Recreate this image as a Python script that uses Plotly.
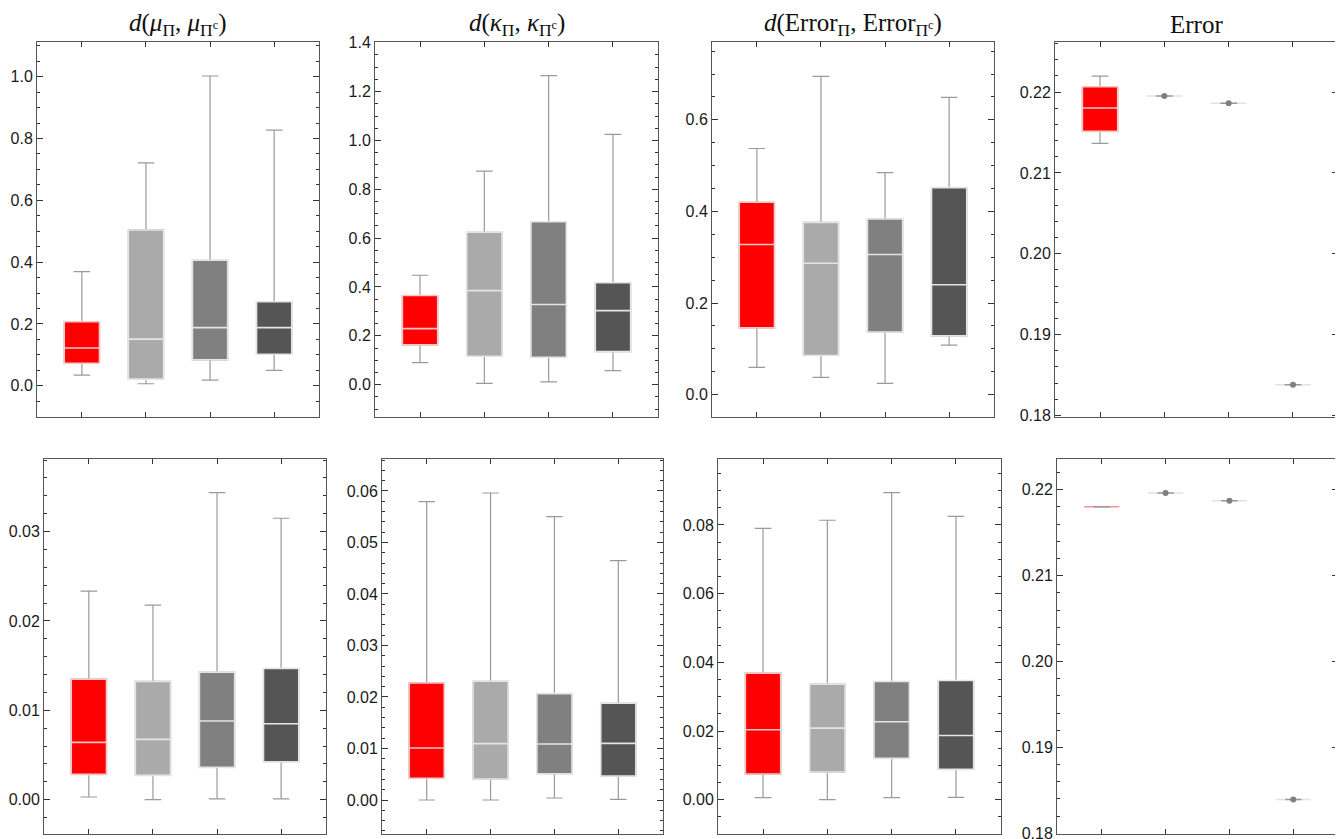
import plotly.graph_objects as go

# page window size and the browser's default body margin
WIN_W, WIN_H = 1343, 839
OFF = 8
W, H = WIN_W - OFF, WIN_H - OFF

GROUPS = ["A", "B", "C", "D"]
FILL = ["#FF0000", "#AAAAAA", "#808080", "#555555"]
EDGE = ["#F2C8C8", "#E4E4E4", "#E4E4E4", "#E4E4E4"]
DEGEN_EDGE = ["#FF9090", "#E2E2E2", "#E2E2E2", "#E2E2E2"]
WHISKER = "#9A9A9A"

# ---- Row 1 ----
P1_LOW = [0.0345, 0.0065, 0.018, 0.050]
P1_Q1 = [0.073, 0.0216, 0.084, 0.102]
P1_MED = [0.122, 0.151, 0.188, 0.188]
P1_Q3 = [0.207, 0.504, 0.406, 0.272]
P1_HIGH = [0.369, 0.721, 1.002, 0.827]

P2_LOW = [0.090, 0.0055, 0.011, 0.057]
P2_Q1 = [0.163, 0.116, 0.112, 0.135]
P2_MED = [0.2295, 0.385, 0.328, 0.303]
P2_Q3 = [0.365, 0.624, 0.667, 0.417]
P2_HIGH = [0.448, 0.874, 1.265, 1.025]

P3_LOW = [0.0596, 0.0378, 0.0247, 0.108]
P3_Q1 = [0.146, 0.0857, 0.137, 0.1286]
P3_MED = [0.328, 0.287, 0.306, 0.240]
P3_Q3 = [0.420, 0.376, 0.3835, 0.452]
P3_HIGH = [0.5375, 0.695, 0.485, 0.649]

P4_LOW = [0.21364, 0.21950, 0.21860, 0.18380]
P4_Q1 = [0.21513, 0.21950, 0.21860, 0.18380]
P4_MED = [0.21802, 0.21950, 0.21860, 0.18380]
P4_Q3 = [0.22066, 0.21950, 0.21860, 0.18380]
P4_HIGH = [0.22198, 0.21950, 0.21860, 0.18380]
P4_DOTS = [None, 0.21950, 0.21860, 0.18380]

# ---- Row 2 ----
P5_LOW = [0.0003, 0.0, 0.0001, 0.0001]
P5_Q1 = [0.00283, 0.00272, 0.00361, 0.00425]
P5_MED = [0.00641, 0.00675, 0.0088, 0.0085]
P5_Q3 = [0.01349, 0.01323, 0.01427, 0.01468]
P5_HIGH = [0.02333, 0.02176, 0.03436, 0.03149]

P6_LOW = [0.0, 0.0, 0.00039, 0.00013]
P6_Q1 = [0.00421, 0.00408, 0.00511, 0.00466]
P6_MED = [0.0101, 0.01094, 0.01087, 0.0110]
P6_Q3 = [0.02272, 0.02304, 0.02065, 0.01877]
P6_HIGH = [0.05793, 0.0596, 0.05502, 0.04647]

P7_LOW = [0.00058, 0.0, 0.00058, 0.00068]
P7_Q1 = [0.00747, 0.00805, 0.01202, 0.00882]
P7_MED = [0.02036, 0.02085, 0.02269, 0.01871]
P7_Q3 = [0.03685, 0.03365, 0.03442, 0.03471]
P7_HIGH = [0.0790, 0.08136, 0.0894, 0.08252]

P8_LOW = [0.21801, 0.21961, 0.21871, 0.18393]
P8_Q1 = [0.21801, 0.21961, 0.21871, 0.18393]
P8_MED = [0.21801, 0.21961, 0.21871, 0.18393]
P8_Q3 = [0.21801, 0.21961, 0.21871, 0.18393]
P8_HIGH = [0.21801, 0.21961, 0.21871, 0.18393]
P8_DOTS = [None, 0.21961, 0.21871, 0.18393]

TITLES = [
    "<i>d</i>(<i>μ</i><sub>Π</sub>, <i>μ</i><sub>Π<sup>c</sup></sub>)",
    "<i>d</i>(<i>κ</i><sub>Π</sub>, <i>κ</i><sub>Π<sup>c</sup></sub>)",
    "<i>d</i>(Error<sub>Π</sub>, Error<sub>Π<sup>c</sup></sub>)",
    "Error",
]

panels = [
    dict(d=(P1_LOW, P1_Q1, P1_MED, P1_Q3, P1_HIGH), dots=None, yr=[-0.101, 1.112], dt=0.2, mdt=0.05, fmt=".1f", xd=(37, 319), yd=(42, 417)),
    dict(d=(P2_LOW, P2_Q1, P2_MED, P2_Q3, P2_HIGH), dots=None, yr=[-0.1325, 1.403], dt=0.2, mdt=0.05, fmt=".1f", xd=(375, 658), yd=(42, 417)),
    dict(d=(P3_LOW, P3_Q1, P3_MED, P3_Q3, P3_HIGH), dots=None, yr=[-0.0487, 0.770], dt=0.2, mdt=0.05, fmt=".1f", xd=(712, 994), yd=(42, 417)),
    dict(d=(P4_LOW, P4_Q1, P4_MED, P4_Q3, P4_HIGH), dots=P4_DOTS, yr=[0.17981, 0.22619], dt=0.01, mdt=0.002, fmt=".2f", xd=(1055, 1338), yd=(42, 417)),
    dict(d=(P5_LOW, P5_Q1, P5_MED, P5_Q3, P5_HIGH), dots=None, yr=[-0.00384, 0.03812], dt=0.01, mdt=0.002, fmt=".2f", xd=(44, 326), yd=(459, 834)),
    dict(d=(P6_LOW, P6_Q1, P6_MED, P6_Q3, P6_HIGH), dots=None, yr=[-0.0066, 0.0662], dt=0.01, mdt=0.002, fmt=".2f", xd=(382, 663), yd=(459, 834)),
    dict(d=(P7_LOW, P7_Q1, P7_MED, P7_Q3, P7_HIGH), dots=None, yr=[-0.00999, 0.0992], dt=0.02, mdt=0.005, fmt=".2f", xd=(718, 1001), yd=(459, 834)),
    dict(d=(P8_LOW, P8_Q1, P8_MED, P8_Q3, P8_HIGH), dots=P8_DOTS, yr=[0.17992, 0.22358], dt=0.01, mdt=0.002, fmt=".2f", xd=(1057, 1338), yd=(459, 834)),
]


def px_x(v):
    return min(1.0, max(0.0, (v - OFF) / W))


def px_y(v):
    return min(1.0, max(0.0, 1 - (v - OFF) / H))


BOXW = 0.55
CAPW = 0.47

fig = go.Figure()
layout = {}
for i, p in enumerate(panels):
    n = i + 1
    xa, ya = f"x{n}", f"y{n}"
    low, q1, med, q3, high = p["d"]
    for g in range(4):
        common = dict(x=[GROUPS[g]], xaxis=xa, yaxis=ya, showlegend=False,
                      boxpoints=False, hoverinfo="skip", fillcolor=FILL[g])
        degenerate = q1[g] == q3[g]
        if not degenerate:
            fig.add_trace(go.Box(q1=[q1[g]], median=[med[g]], q3=[q3[g]],
                                 lowerfence=[low[g]], upperfence=[high[g]],
                                 width=BOXW, whiskerwidth=CAPW,
                                 line=dict(color=WHISKER, width=1.2), **common))
            fig.add_trace(go.Box(q1=[q1[g]], median=[med[g]], q3=[q3[g]],
                                 lowerfence=[q1[g]], upperfence=[q3[g]],
                                 width=BOXW, whiskerwidth=0,
                                 line=dict(color=EDGE[g], width=1.6), **common))
        else:
            fig.add_trace(go.Box(q1=[q1[g]], median=[med[g]], q3=[q3[g]],
                                 lowerfence=[low[g]], upperfence=[high[g]],
                                 width=BOXW, whiskerwidth=0,
                                 line=dict(color=DEGEN_EDGE[g], width=1.5), **common))
            fig.add_trace(go.Box(q1=[q1[g]], median=[med[g]], q3=[q3[g]],
                                 lowerfence=[low[g]], upperfence=[high[g]],
                                 width=BOXW * CAPW, whiskerwidth=0,
                                 line=dict(color=WHISKER, width=1.5), **common))
    if p["dots"]:
        xs = [GROUPS[g] for g in range(4) if p["dots"][g] is not None]
        ys = [v for v in p["dots"] if v is not None]
        fig.add_trace(go.Scatter(x=xs, y=ys, mode="markers", xaxis=xa, yaxis=ya,
                                 marker=dict(color="#808080", size=6), showlegend=False,
                                 hoverinfo="skip"))

    x0, x1 = p["xd"]
    y0, y1 = p["yd"]
    axis_common = dict(showline=True, linecolor="#555555", linewidth=1, mirror="allticks",
                       ticks="inside", tickcolor="#333333", showgrid=False, zeroline=False,
                       automargin=False)
    layout[f"xaxis{n}"] = dict(domain=[px_x(x0), px_x(x1)], anchor=ya, type="category",
                               categoryorder="array", categoryarray=GROUPS,
                               range=[-0.7, 3.7], showticklabels=False, ticklen=5,
                               tickwidth=1, **axis_common)
    layout[f"yaxis{n}"] = dict(domain=[px_y(y1), px_y(y0)], anchor=xa, range=p["yr"],
                               dtick=p["dt"], tick0=0, tickformat=p["fmt"], ticklen=6, tickwidth=1,
                               ticklabeloverflow="allow",
                               tickfont=dict(family="Liberation Sans, Arial", size=16, color="#1a1a1a"),
                               minor=dict(dtick=p["mdt"], tick0=0, ticks="inside", ticklen=3,
                                          tickcolor="#333333", showgrid=False),
                               **axis_common)

annotations = []
for c in range(4):
    x0, x1 = panels[c]["xd"]
    annotations.append(dict(text=TITLES[c], x=px_x((x0 + x1) / 2), y=px_y(24),
                            xref="paper", yref="paper", xanchor="center", yanchor="middle",
                            showarrow=False,
                            font=dict(family="Liberation Serif, Times New Roman", size=25, color="#111111")))

fig.update_layout(template="none", width=W, height=H, autosize=False,
                  margin=dict(l=0, r=0, t=0, b=0, pad=0),
                  paper_bgcolor="white", plot_bgcolor="white", boxmode="overlay",
                  annotations=annotations, **layout)

fig.write_html("out.html")
